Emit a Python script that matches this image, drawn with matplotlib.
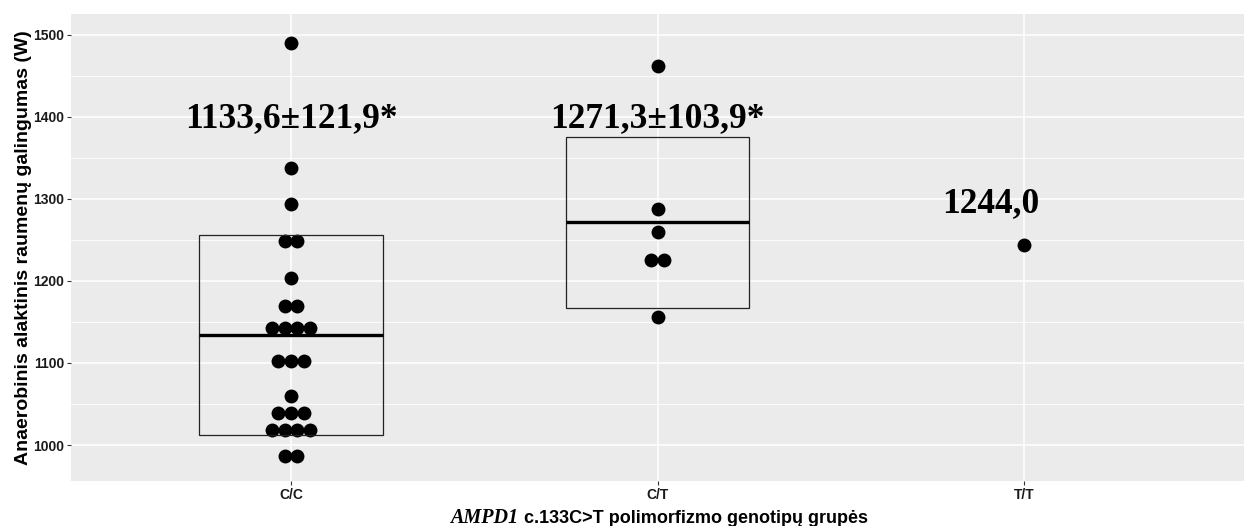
import matplotlib
matplotlib.use("Agg")
import matplotlib.pyplot as plt
import numpy as np
from matplotlib.offsetbox import TextArea, HPacker, AnnotationBbox

# data
groups = ["C/C", "C/T", "T/T"]
cc_values = [1490, 1337, 1294, 1249, 1249, 1203, 1169, 1169,
             1142, 1142, 1142, 1142, 1102, 1102, 1102, 1060,
             1039, 1039, 1039, 1018, 1018, 1018, 1018, 987, 987]
ct_values = [1462, 1287, 1259, 1225, 1225, 1156]
tt_values = [1244]
means = [1133.6, 1271.3, 1244.0]
sds = [121.9, 103.9, 0.0]
labels = ["1133,6\u00b1121,9*", "1271,3\u00b1103,9*", "1244,0"]
label_y = [1398, 1398, 1294]
label_x = [1.0, 2.0, 2.91]

sans = "Liberation Sans"
serif = "Liberation Serif"

fig = plt.figure(figsize=(12.44, 5.26), dpi=100)
ax = fig.add_axes([71 / 1244, 1 - 480.7 / 526, 1 - 71 / 1244, (480.7 - 14) / 526])
ax.set_facecolor("#EBEBEB")
for s in ax.spines.values():
    s.set_visible(False)

ax.set_xlim(0.4, 3.6)
ax.set_ylim(956.5, 1525.2)

# grid
ax.set_yticks([1000, 1100, 1200, 1300, 1400, 1500])
ax.set_yticks(np.arange(1050, 1525, 100), minor=True)
ax.set_xticks([1, 2, 3])
ax.set_xticklabels(groups)
ax.grid(which="major", color="white", linewidth=1.1)
ax.grid(which="minor", axis="y", color="white", linewidth=0.6)
ax.set_axisbelow(True)
ax.tick_params(which="minor", length=0)
ax.tick_params(which="major", length=3, color="#333333", width=0.8, pad=2)
for t in ax.get_yticklabels() + ax.get_xticklabels():
    t.set_fontfamily(sans)
    t.set_fontweight("bold")
    t.set_fontsize(10)
    t.set_color("#1a1a1a")

# dots, stacked sideways when equal
step = 0.035
for pos, vals in zip([1, 2, 3], [cc_values, ct_values, tt_values]):
    u, c = np.unique(vals, return_counts=True)
    for v, n in zip(u, c):
        offs = (np.arange(n) - (n - 1) / 2) * step
        ax.plot(pos + offs, [v] * n, "o", color="black", markersize=10,
                markeredgewidth=0, zorder=3)

# mean +/- sd boxes
for pos, m, sd in zip([1, 2, 3], means, sds):
    if sd == 0:
        continue
    ax.add_patch(plt.Rectangle((pos - 0.25, m - sd), 0.5, 2 * sd, fill=False,
                               edgecolor="#222222", linewidth=0.9, zorder=4))
    ax.plot([pos - 0.25, pos + 0.25], [m, m], color="black", linewidth=2.4,
            solid_capstyle="butt", zorder=4)

for x, y, s in zip(label_x, label_y, labels):
    ax.text(x, y, s, ha="center", va="center", fontfamily=serif,
            fontweight="bold", fontsize=25.5, color="black", zorder=5)

ax.set_ylabel("Anaerobinis alaktinis raumenų galingumas (W)", fontfamily=sans,
              fontweight="bold", fontsize=14)
ax.yaxis.set_label_coords(-0.033, 0.5)

t1 = TextArea("AMPD1", textprops=dict(fontfamily=serif, fontstyle="italic",
                                      fontweight="bold", fontsize=14.5))
t2 = TextArea(" c.133C>T polimorfizmo genotipų grupės",
              textprops=dict(fontfamily=sans, fontweight="bold", fontsize=13))
box = HPacker(children=[t1, t2], align="baseline", pad=0, sep=0)
ab = AnnotationBbox(box, (659, 8), xycoords="figure pixels",
                    box_alignment=(0.5, 0.5), frameon=False,
                    annotation_clip=False)
fig.add_artist(ab)

fig.savefig("out.png", dpi=100)
